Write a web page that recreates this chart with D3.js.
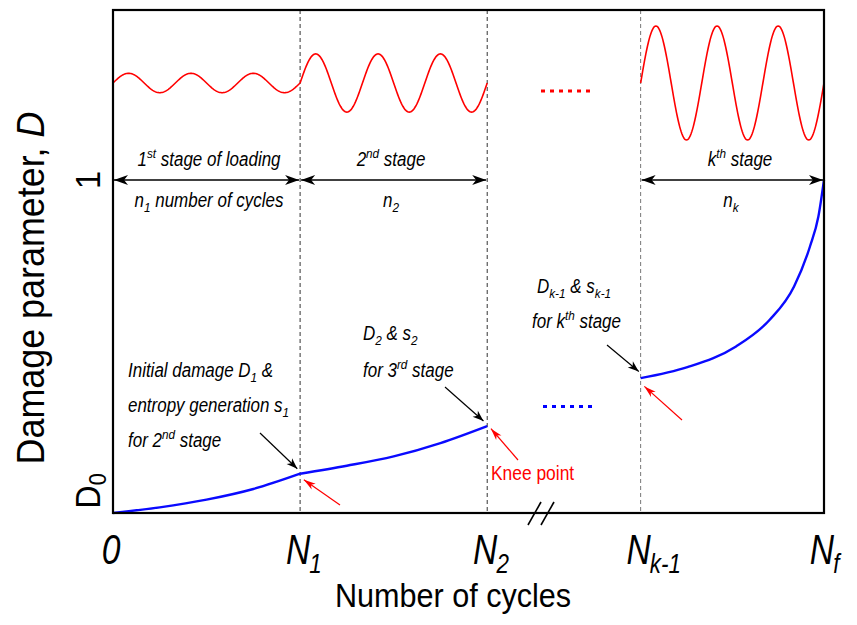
<!DOCTYPE html>
<html>
<head>
<meta charset="utf-8">
<script src="https://cdn.jsdelivr.net/npm/d3@7"></script>
<style>
  body { margin: 0; background: #fff; }
  svg { display: block; }
  text { font-family: "Liberation Sans", Arial, Helvetica, sans-serif; }
</style>
</head>
<body>
<svg id="chart" width="857" height="625"></svg>
<script>
// Stage boundaries on the cycle axis (schematic units)
const boundaryBase = ["0", "N", "N", "N", "N"];
const boundarySub  = ["", "1", "2", "k-1", "f"];
const boundaryPos  = [0, 1, 2, 2.82, 3.8];

// Damage parameter D along each loading stage
const stage1Cycles = [0, 0.25, 0.5, 0.75, 1];
const stage1Damage = [0, 0.017, 0.04, 0.072, 0.118];
const stage2Cycles = [1, 1.25, 1.5, 1.75, 2];
const stage2Damage = [0.118, 0.142, 0.17, 0.21, 0.261];
const stageKCycles = [2.82, 3.07, 3.33, 3.51, 3.64, 3.725, 3.77, 3.8];
const stageKDamage = [0.405, 0.438, 0.5, 0.58, 0.68, 0.8, 0.89, 1];

// Cyclic load of each stage (relative amplitude, cycles shown)
const loadStart     = [0, 1, 2.82];
const loadEnd       = [1, 2, 3.8];
const loadAmplitude = [0.17, 0.51, 1];
const loadCycles    = [3, 3, 3];

// Y tick labels
const yTickValues = [0, 1];

const svg = d3.select("#chart");
const W = 857, H = 625;
const m = { left: 113, right: 33, top: 10, bottom: 112 };

const x = d3.scaleLinear().domain([0, 3.8]).range([m.left, W - m.right]);
const y = d3.scaleLinear().domain([0, 1.51]).range([H - m.bottom, m.top]);
// load signal panel in the upper part of the frame
const load = d3.scaleLinear().domain([-1, 1]).range([140, 26]);

// narrow lettering: text is drawn in a horizontally condensed frame
const NARROW = 0.87;

const defs = svg.append("defs");
function marker(id, color, len, half) {
  defs.append("marker")
    .attr("id", id)
    .attr("markerUnits", "userSpaceOnUse")
    .attr("viewBox", `${-len - 1} ${-half - 1} ${len + 2} ${2 * half + 2}`)
    .attr("refX", 0).attr("refY", 0)
    .attr("markerWidth", len + 2).attr("markerHeight", 2 * half + 2)
    .attr("orient", "auto-start-reverse")
    .append("path")
    .attr("d", `M0,0 L${-len},${-half} L${-len * 0.72},0 L${-len},${half} Z`)
    .attr("fill", color);
}
marker("headBlack", "#000", 14, 5);
marker("headSmall", "#000", 11, 4);
marker("headRed", "#f00", 12, 3.5);

// stage boundary guides
const guideColors = ["#333", "#333", "#777"];
[1, 2, 2.82].forEach((v, i) => {
  svg.append("line")
    .attr("x1", x(v)).attr("x2", x(v))
    .attr("y1", y.range()[1]).attr("y2", y.range()[0])
    .attr("stroke", guideColors[i]).attr("stroke-width", 1)
    .attr("stroke-dasharray", "4,3");
});

// cyclic load signal for each stage
loadStart.forEach((s, i) => {
  const n = 240;
  const pts = d3.range(n + 1).map(k => {
    const t = k / n;
    return [x(s + t * (loadEnd[i] - s)),
            load(loadAmplitude[i] * Math.sin(2 * Math.PI * loadCycles[i] * t))];
  });
  svg.append("path")
    .attr("d", d3.line()(pts))
    .attr("fill", "none").attr("stroke", "#f00").attr("stroke-width", 1.6);
});

// dotted ellipses for the omitted stages
svg.append("line")
  .attr("x1", 541).attr("x2", 594).attr("y1", 91).attr("y2", 91)
  .attr("stroke", "#f00").attr("stroke-width", 3).attr("stroke-dasharray", "4,5");
svg.append("line")
  .attr("x1", 543).attr("x2", 594).attr("y1", y(0.32)).attr("y2", y(0.32))
  .attr("stroke", "#0000ff").attr("stroke-width", 3).attr("stroke-dasharray", "4,5");

// damage curves
const dLine = d3.line().x(d => x(d[0])).y(d => y(d[1])).curve(d3.curveMonotoneX);
[[stage1Cycles, stage1Damage], [stage2Cycles, stage2Damage], [stageKCycles, stageKDamage]]
  .forEach(([c, d]) => {
    svg.append("path")
      .attr("d", dLine(c.map((v, i) => [v, d[i]])))
      .attr("fill", "none").attr("stroke", "#0a0aff").attr("stroke-width", 2.4);
  });

// stage span arrows at D = 1
[[0, 1], [1, 2], [2.82, 3.8]].forEach(([a, b]) => {
  svg.append("line")
    .attr("x1", x(a) + 1).attr("x2", x(b) - 1)
    .attr("y1", y(1)).attr("y2", y(1))
    .attr("stroke", "#000").attr("stroke-width", 1.5)
    .attr("marker-start", "url(#headBlack)")
    .attr("marker-end", "url(#headBlack)");
});

// frame
svg.append("rect")
  .attr("x", x.range()[0]).attr("y", y.range()[1])
  .attr("width", x.range()[1] - x.range()[0])
  .attr("height", y.range()[0] - y.range()[1])
  .attr("fill", "none").attr("stroke", "#000").attr("stroke-width", 2.2);

// axis break mark
[0, 13].forEach(dx => {
  svg.append("line")
    .attr("x1", 528 + dx).attr("y1", 525)
    .attr("x2", 541 + dx).attr("y2", 502)
    .attr("stroke", "#000").attr("stroke-width", 1.6);
});

// x tick labels: the letter is centred on the tick, the subscript follows it
const xt = svg.append("g").attr("font-size", 42).attr("font-style", "italic");
boundaryPos.forEach((v, i) => {
  const g = xt.append("g").attr("transform", `translate(${x(v) - 2},564) scale(0.8,1)`);
  g.append("text").attr("text-anchor", "middle").text(boundaryBase[i]);
  if (boundarySub[i]) {
    g.append("text").attr("x", 14).attr("y", 9).attr("font-size", 28).text(boundarySub[i]);
  }
});

// y tick labels (rotated)
const yt = svg.append("g").attr("font-size", 36);
yt.append("text").attr("transform", `translate(100,${y(yTickValues[1])}) rotate(-90) scale(0.9,1)`)
  .attr("text-anchor", "middle").text("1");
const d0 = yt.append("text")
  .attr("transform", `translate(100,${y(yTickValues[0]) - 22}) rotate(-90) scale(0.9,1)`)
  .attr("text-anchor", "middle");
d0.append("tspan").text("D");
d0.append("tspan").attr("font-size", 24).attr("dy", 6).text("0");

// axis titles
svg.append("text").attr("transform", "translate(453,607) scale(0.9,1)")
  .attr("text-anchor", "middle").attr("font-size", 34).text("Number of cycles");
const yl = svg.append("text").attr("transform", "translate(44,288) rotate(-90) scale(0.92,1)")
  .attr("text-anchor", "middle").attr("font-size", 39);
yl.append("tspan").text("Damage parameter, ");
yl.append("tspan").attr("font-style", "italic").text("D");

// rich label helper: parts are [text, "n"|"sup"|"sub"]
function rich(g, xp, yp, parts, anchor) {
  const t = g.append("text")
    .attr("transform", `translate(${xp},${yp}) scale(${NARROW},1)`)
    .attr("text-anchor", anchor || "start");
  let shift = 0;
  parts.forEach(([s, k]) => {
    const target = k === "sup" ? -8 : k === "sub" ? 5 : 0;
    const ts = t.append("tspan").attr("dy", target - shift).text(s);
    if (k !== "n") ts.attr("font-size", 13.5);
    shift = target;
  });
  return t;
}
const lab = svg.append("g").attr("font-size", 19.5).attr("font-style", "italic");
rich(lab, 209, 166, [["1", "n"], ["st", "sup"], [" stage of loading", "n"]], "middle");
rich(lab, 391, 166, [["2", "n"], ["nd", "sup"], [" stage", "n"]], "middle");
rich(lab, 740, 166, [["k", "n"], ["th", "sup"], [" stage", "n"]], "middle");
rich(lab, 209, 207, [["n", "n"], ["1", "sub"], [" number of cycles", "n"]], "middle");
rich(lab, 391, 207, [["n", "n"], ["2", "sub"]], "middle");
rich(lab, 731, 207, [["n", "n"], ["k", "sub"]], "middle");

rich(lab, 128, 377, [["Initial damage D", "n"], ["1", "sub"], [" &", "n"]]);
rich(lab, 128, 412, [["entropy generation s", "n"], ["1", "sub"]]);
rich(lab, 128, 447, [["for 2", "n"], ["nd", "sup"], [" stage", "n"]]);
rich(lab, 363, 340, [["D", "n"], ["2", "sub"], [" & s", "n"], ["2", "sub"]]);
rich(lab, 363, 377, [["for 3", "n"], ["rd", "sup"], [" stage", "n"]]);
rich(lab, 537, 293, [["D", "n"], ["k-1", "sub"], [" & s", "n"], ["k-1", "sub"]]);
rich(lab, 532, 328, [["for k", "n"], ["th", "sup"], [" stage", "n"]]);

svg.append("text").attr("transform", `translate(491,480) scale(${NARROW},1)`)
  .attr("font-size", 20).attr("fill", "#f00").text("Knee point");

// pointer arrows to the stage transition points
function pointer(x0, y0, cx, cd, color, id) {
  svg.append("line")
    .attr("x1", x0).attr("y1", y0).attr("x2", x(cx)).attr("y2", y(cd))
    .attr("stroke", color).attr("stroke-width", 1.2)
    .attr("marker-end", `url(#${id})`);
}
pointer(260, 433, 0.985, stage1Damage[4] + 0.015, "#000", "headSmall");
pointer(445, 387, 1.98, stage2Damage[4] + 0.015, "#000", "headSmall");
pointer(607, 345, 2.81, stageKDamage[0] + 0.02, "#000", "headSmall");
pointer(340, 505, 1.02, stage1Damage[4] - 0.018, "#f00", "headRed");
pointer(518, 460, 2.02, stage2Damage[4] - 0.008, "#f00", "headRed");
pointer(682, 420, 2.84, stageKDamage[0] - 0.025, "#f00", "headRed");
</script>
</body>
</html>
